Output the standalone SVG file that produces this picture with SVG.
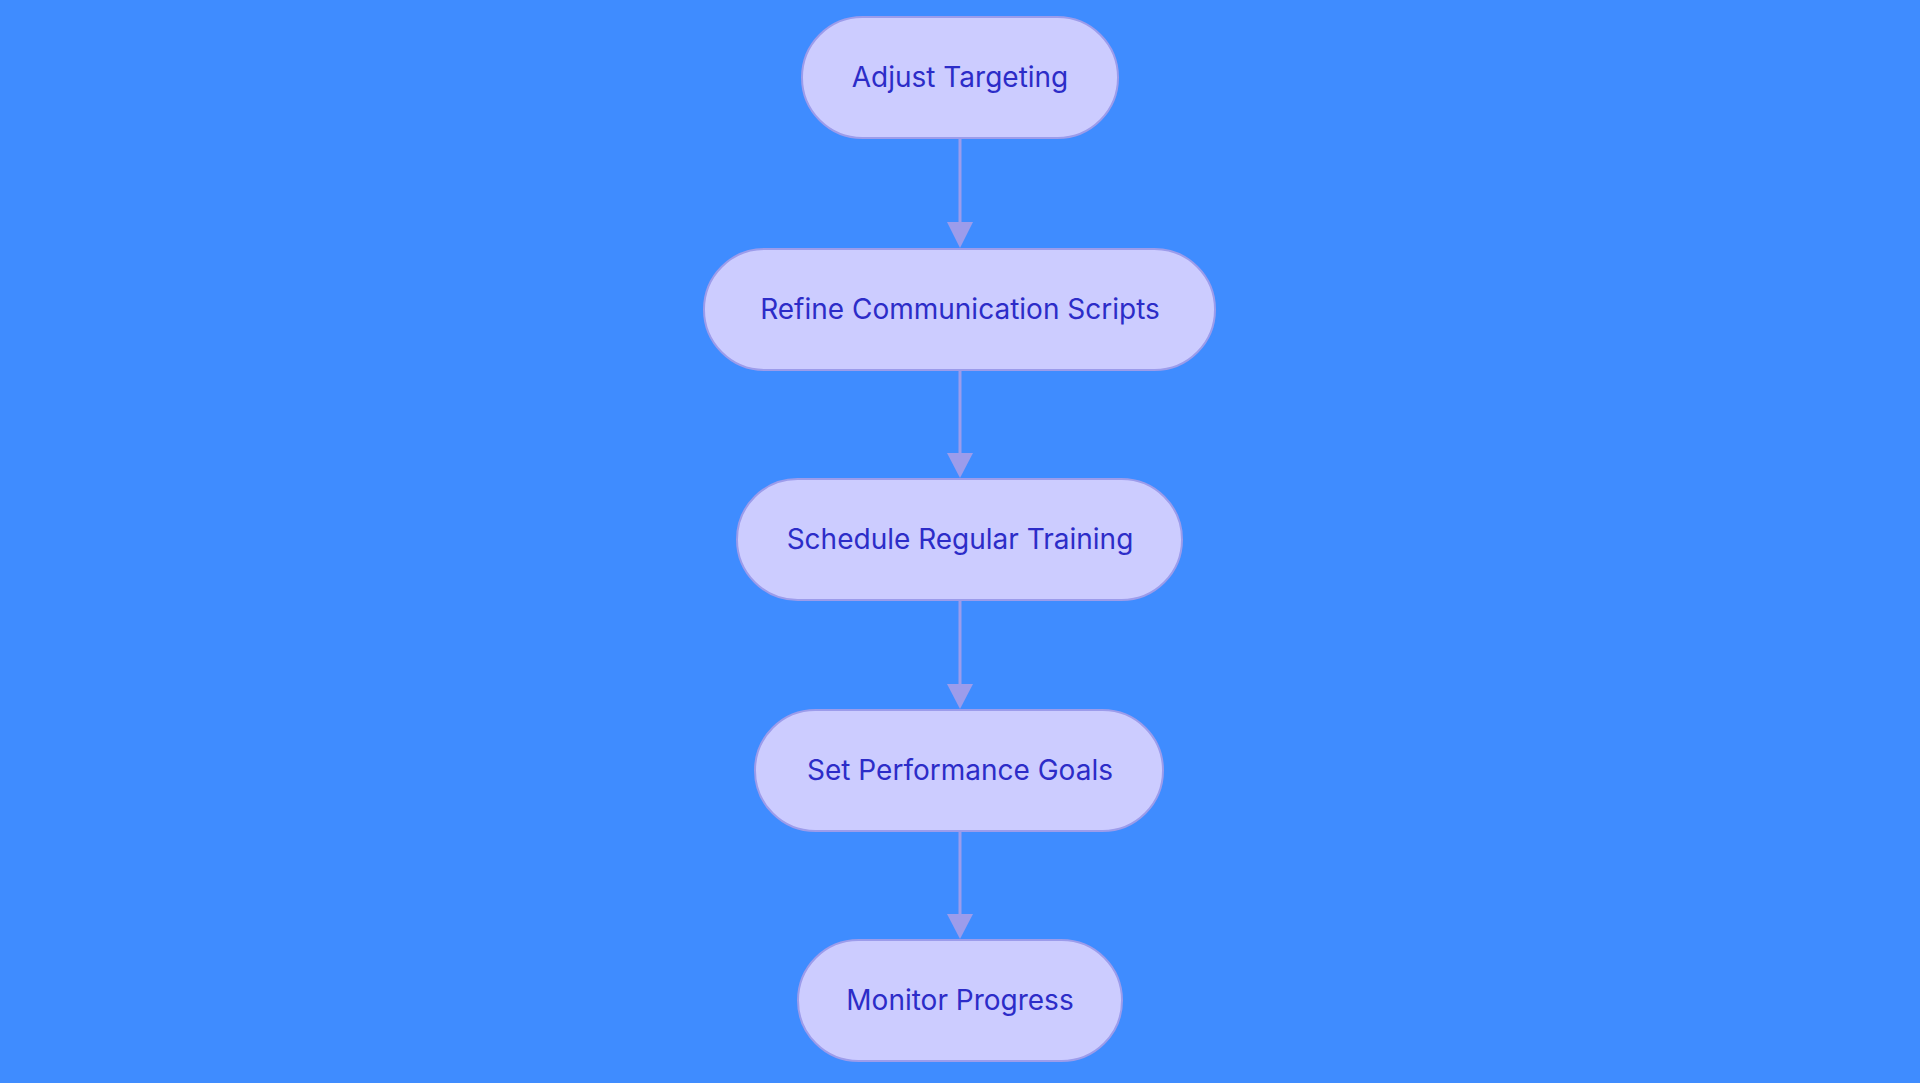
<svg xmlns="http://www.w3.org/2000/svg" width="1920" height="1083" viewBox="0 0 1920 1083">
<style>
.n rect{fill:#CCCCFF;stroke:#9C9CEB;stroke-width:2}
.n text{font-family:Inter,"Liberation Sans",sans-serif;font-size:28px;fill:#2C2CC8;text-anchor:middle;dominant-baseline:central}
.e{stroke:#9C9CEB;stroke-width:3;fill:none;marker-end:url(#a)}
</style>
<defs><marker id="a" markerWidth="10" markerHeight="10" refX="5" refY="5" orient="auto" markerUnits="userSpaceOnUse" viewBox="0 0 10 10"><path d="M0,0L10,5L0,10z" fill="#9C9CEB"/></marker></defs>
<rect width="1920" height="1083" fill="#3F8CFF"/>
<g id="connectors">
<path class="e" d="M960,138V232" style="marker-end:none"/><path d="M947,222L960,248L973,222z" fill="#9C9CEB"/>
<path class="e" d="M960,370V462" style="marker-end:none"/><path d="M947,453L960,478L973,453z" fill="#9C9CEB"/>
<path class="e" d="M960,600V693" style="marker-end:none"/><path d="M947,684L960,709L973,684z" fill="#9C9CEB"/>
<path class="e" d="M960,831V923" style="marker-end:none"/><path d="M947,914L960,939L973,914z" fill="#9C9CEB"/>
</g>
<g id="n1" class="n"><rect x="802" y="17" width="316" height="121" rx="60.5"/><text x="960" y="77">Adjust Targeting</text></g>
<g id="n2" class="n"><rect x="704" y="249" width="511" height="121" rx="60.5"/><text x="960" y="309">Refine Communication Scripts</text></g>
<g id="n3" class="n"><rect x="737" y="479" width="445" height="121" rx="60.5"/><text x="960" y="539">Schedule Regular Training</text></g>
<g id="n4" class="n"><rect x="755" y="710" width="408" height="121" rx="60.5"/><text x="960" y="770">Set Performance Goals</text></g>
<g id="n5" class="n"><rect x="798" y="940" width="324" height="121" rx="60.5"/><text x="960" y="1000">Monitor Progress</text></g>
</svg>
